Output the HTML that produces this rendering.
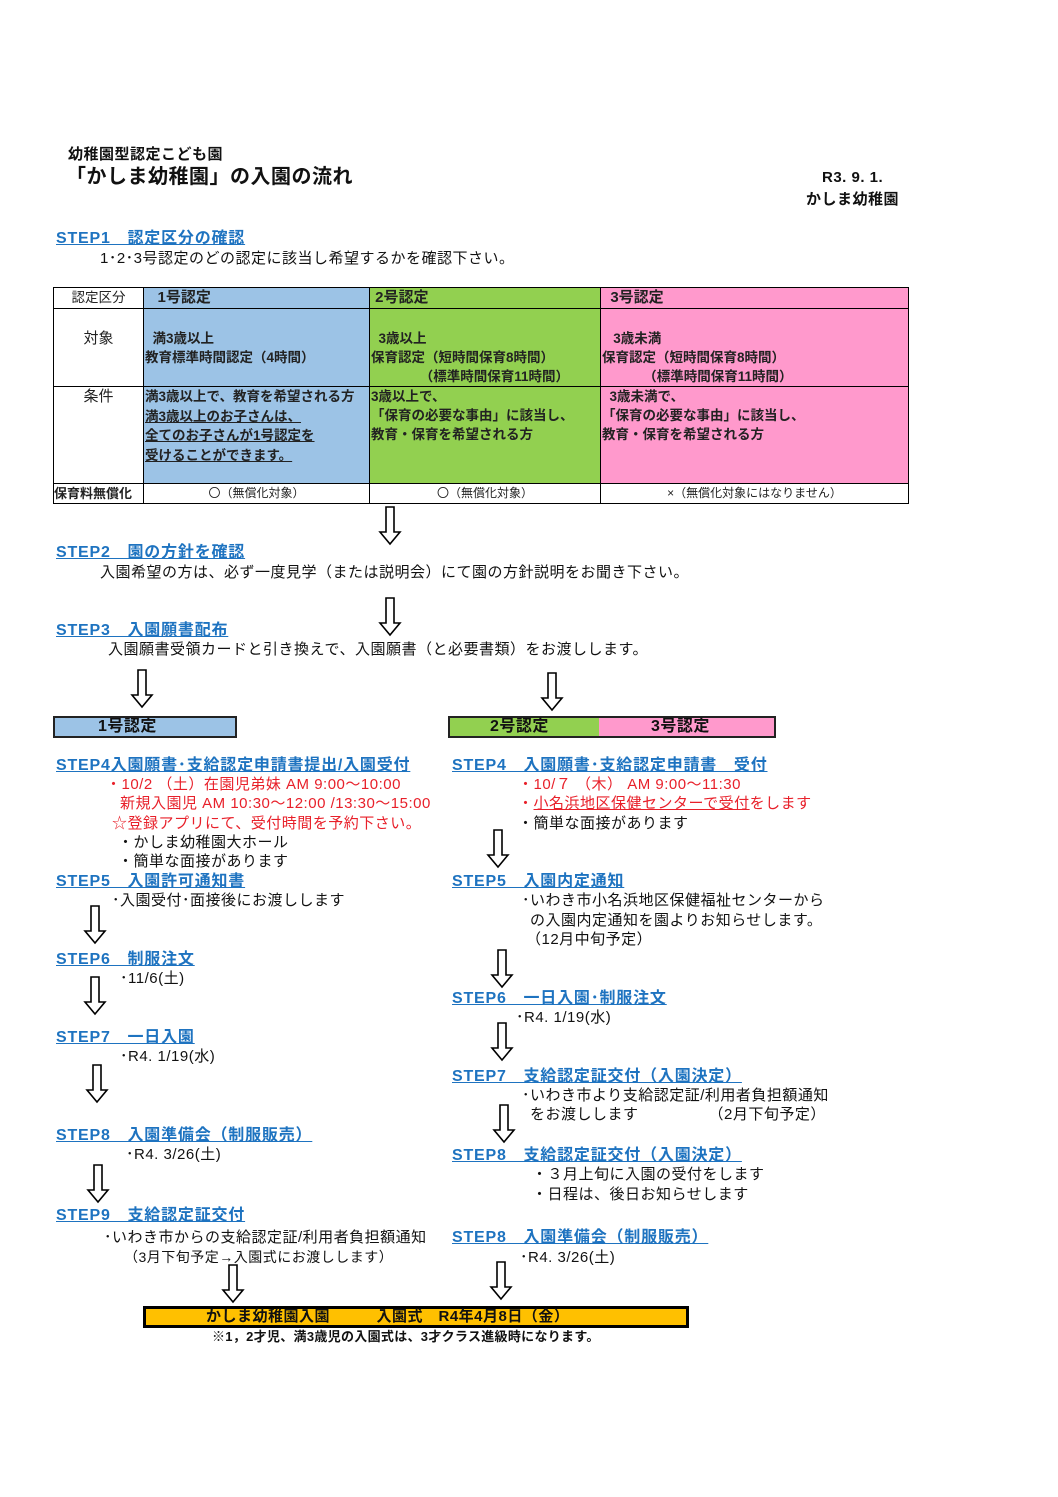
<!DOCTYPE html>
<html><head><meta charset="utf-8"><style>
body{margin:0;width:1058px;height:1497px;background:#fff;position:relative;font-family:"Liberation Sans","Noto Sans CJK JP",sans-serif;color:#111;overflow:hidden}
.a{position:absolute;white-space:nowrap;font-size:15px;line-height:19px;letter-spacing:0.5px}
.s{color:#1e73c0;text-decoration:underline;font-weight:bold;font-size:16px;letter-spacing:0.8px}
.r{color:#e8202a}
.b{font-weight:bold}
table{position:absolute;left:53px;top:287px;width:855px;table-layout:fixed;border-collapse:collapse;font-size:13.5px;font-weight:bold;color:#222}
td{border:1.5px solid #000;padding:0 1px;vertical-align:top;line-height:19px;white-space:nowrap;overflow:hidden}
.bl{background:#9cc3e6}.gr{background:#92d050}.pk{background:#ff99cc}
svg.ar{position:absolute;width:22px;height:40px;overflow:visible}
</style></head><body>
<div class="a b" style="left:68px;top:145px;font-size:15px">幼稚園型認定こども園</div>
<div class="a b" style="left:66px;top:165px;font-size:20px;line-height:24px">「かしま幼稚園」の入園の流れ</div>
<div class="a b" style="left:822px;top:168px;font-size:15px">R3. 9. 1.</div>
<div class="a b" style="left:806px;top:190px;font-size:15px">かしま幼稚園</div>

<div class="a s" style="left:56px;top:229px">STEP1　認定区分の確認</div>
<div class="a" style="left:100px;top:249px">1･2･3号認定のどの認定に該当し希望するかを確認下さい。</div>

<table>
<colgroup><col style="width:90px"><col style="width:226px"><col style="width:231px"><col style="width:308px"></colgroup>
<tr style="height:21px"><td style="text-align:center;font-weight:normal">認定区分</td><td class="bl" style="font-size:15px">&nbsp;&nbsp;&nbsp;1号認定</td><td class="gr" style="font-size:15px">&nbsp;2号認定</td><td class="pk" style="font-size:15px">&nbsp;&nbsp;3号認定</td></tr>
<tr style="height:77px"><td style="text-align:center;padding-top:20px;font-weight:normal;font-size:15px">対象</td><td class="bl" style="padding-top:20px">&nbsp;&nbsp;満3歳以上<br>教育標準時間認定（4時間）</td><td class="gr" style="padding-top:20px">&nbsp;&nbsp;3歳以上<br>保育認定（短時間保育8時間）<br>&nbsp;&nbsp;&nbsp;&nbsp;&nbsp;&nbsp;&nbsp;&nbsp;&nbsp;&nbsp;&nbsp;&nbsp;&nbsp;（標準時間保育11時間）</td><td class="pk" style="padding-top:20px">&nbsp;&nbsp;&nbsp;3歳未満<br>保育認定（短時間保育8時間）<br>&nbsp;&nbsp;&nbsp;&nbsp;&nbsp;&nbsp;&nbsp;&nbsp;&nbsp;&nbsp;&nbsp;（標準時間保育11時間）</td></tr>
<tr style="height:97px"><td style="text-align:center;font-weight:normal;font-size:15px">条件</td><td class="bl" style="line-height:19.5px">満3歳以上で、教育を希望される方<br><u>満3歳以上のお子さんは、</u><br><u>全てのお子さんが1号認定を</u><br><u>受けることができます。</u></td><td class="gr">3歳以上で、<br>「保育の必要な事由」に該当し、<br>教育・保育を希望される方</td><td class="pk">&nbsp;&nbsp;3歳未満で、<br>「保育の必要な事由」に該当し、<br>教育・保育を希望される方</td></tr>
<tr style="height:19px"><td style="font-size:13px;padding:0">保育料無償化</td><td style="text-align:center;font-size:12px;font-weight:normal">〇（無償化対象）</td><td style="text-align:center;font-size:12px;font-weight:normal">〇（無償化対象）</td><td style="text-align:center;font-size:12px;font-weight:normal">×（無償化対象にはなりません）</td></tr>
</table>

<div class="a s" style="left:56px;top:543px">STEP2　園の方針を確認</div>
<div class="a" style="left:100px;top:563px">入園希望の方は、必ず一度見学（または説明会）にて園の方針説明をお聞き下さい。</div>
<div class="a s" style="left:56px;top:621px">STEP3　入園願書配布</div>
<div class="a" style="left:108px;top:640px">入園願書受領カードと引き換えで、入園願書（と必要書類）をお渡しします。</div>

<div class="a b" style="left:53px;top:716px;width:180px;height:18px;border:2px solid #222;background:#9cc3e6;font-size:16px;line-height:18px"><span style="margin-left:43px">1号認定</span></div>
<div class="a b" style="left:448px;top:716px;width:150px;height:18px;border:2px solid #222;border-right:none;background:#92d050;font-size:16px;line-height:18px"><span style="margin-left:40px">2号認定</span></div>
<div class="a b" style="left:599px;top:716px;width:175px;height:18px;border:2px solid #222;border-left:none;background:#ff99cc;font-size:16px;line-height:18px"><span style="margin-left:52px">3号認定</span></div>

<div class="a s" style="left:56px;top:756px">STEP4入園願書･支給認定申請書提出/入園受付</div>
<div class="a r" style="left:106px;top:775px">・10/2 （土）在園児弟妹 AM 9:00～10:00</div>
<div class="a r" style="left:120px;top:794px">新規入園児 AM 10:30～12:00 /13:30～15:00</div>
<div class="a r" style="left:112px;top:814px">☆登録アプリにて、受付時間を予約下さい。</div>
<div class="a" style="left:118px;top:833px">・かしま幼稚園大ホール</div>
<div class="a" style="left:118px;top:852px">・簡単な面接があります</div>
<div class="a s" style="left:56px;top:872px">STEP5　入園許可通知書</div>
<div class="a" style="left:112px;top:891px">･入園受付･面接後にお渡しします</div>
<div class="a s" style="left:56px;top:950px">STEP6　制服注文</div>
<div class="a" style="left:120px;top:969px">･11/6(土)</div>
<div class="a s" style="left:56px;top:1028px">STEP7　一日入園</div>
<div class="a" style="left:120px;top:1047px">･R4. 1/19(水)</div>
<div class="a s" style="left:56px;top:1126px">STEP8　入園準備会（制服販売）</div>
<div class="a" style="left:126px;top:1145px">･R4. 3/26(土)</div>
<div class="a s" style="left:56px;top:1206px">STEP9　支給認定証交付</div>
<div class="a" style="left:104px;top:1228px">･いわき市からの支給認定証/利用者負担額通知</div>
<div class="a" style="left:124px;top:1248px;font-size:14px">（3月下旬予定→入園式にお渡しします）</div>

<div class="a s" style="left:452px;top:756px">STEP4　入園願書･支給認定申請書　受付</div>
<div class="a r" style="left:518px;top:775px">・10/７ （木） AM 9:00～11:30</div>
<div class="a r" style="left:518px;top:794px">・<u>小名浜地区保健センターで受付</u>をします</div>
<div class="a" style="left:518px;top:814px">・簡単な面接があります</div>
<div class="a s" style="left:452px;top:872px">STEP5　入園内定通知</div>
<div class="a" style="left:522px;top:891px">･いわき市小名浜地区保健福祉センターから</div>
<div class="a" style="left:530px;top:911px">の入園内定通知を園よりお知らせします。</div>
<div class="a" style="left:526px;top:930px">（12月中旬予定）</div>
<div class="a s" style="left:452px;top:989px">STEP6　一日入園･制服注文</div>
<div class="a" style="left:516px;top:1008px">･R4. 1/19(水)</div>
<div class="a s" style="left:452px;top:1067px">STEP7　支給認定証交付（入園決定）</div>
<div class="a" style="left:522px;top:1086px">･いわき市より支給認定証/利用者負担額通知</div>
<div class="a" style="left:530px;top:1105px">をお渡しします　　　　　（2月下旬予定）</div>
<div class="a s" style="left:452px;top:1146px">STEP8　支給認定証交付（入園決定）</div>
<div class="a" style="left:532px;top:1165px">・３月上旬に入園の受付をします</div>
<div class="a" style="left:532px;top:1185px">・日程は、後日お知らせします</div>
<div class="a s" style="left:452px;top:1228px">STEP8　入園準備会（制服販売）</div>
<div class="a" style="left:520px;top:1248px">･R4. 3/26(土)</div>

<div class="a b" style="left:143px;top:1306px;width:540px;height:16px;border:3px solid #000;background:#ffc000;font-size:15px;line-height:16px"><span style="margin-left:60px">かしま幼稚園入園　　　入園式　R4年4月8日（金）</span></div>
<div class="a b" style="left:212px;top:1329px;font-size:13px;line-height:16px;letter-spacing:0.3px">※1，2才児、満3歳児の入園式は、3才クラス進級時になります。</div>

<svg class="ar" style="left:380px;top:507px"><polygon points="6,0 14,0 14,25 20,25 10,37 0,25 6,25" fill="#fff" stroke="#000" stroke-width="1.6"/></svg>
<svg class="ar" style="left:380px;top:598px"><polygon points="6,0 14,0 14,25 20,25 10,37 0,25 6,25" fill="#fff" stroke="#000" stroke-width="1.6"/></svg>
<svg class="ar" style="left:132px;top:670px"><polygon points="6,0 14,0 14,25 20,25 10,37 0,25 6,25" fill="#fff" stroke="#000" stroke-width="1.6"/></svg>
<svg class="ar" style="left:542px;top:673px"><polygon points="6,0 14,0 14,25 20,25 10,37 0,25 6,25" fill="#fff" stroke="#000" stroke-width="1.6"/></svg>
<svg class="ar" style="left:488px;top:830px"><polygon points="6,0 14,0 14,25 20,25 10,37 0,25 6,25" fill="#fff" stroke="#000" stroke-width="1.6"/></svg>
<svg class="ar" style="left:85px;top:906px"><polygon points="6,0 14,0 14,25 20,25 10,37 0,25 6,25" fill="#fff" stroke="#000" stroke-width="1.6"/></svg>
<svg class="ar" style="left:85px;top:977px"><polygon points="6,0 14,0 14,25 20,25 10,37 0,25 6,25" fill="#fff" stroke="#000" stroke-width="1.6"/></svg>
<svg class="ar" style="left:492px;top:950px"><polygon points="6,0 14,0 14,25 20,25 10,37 0,25 6,25" fill="#fff" stroke="#000" stroke-width="1.6"/></svg>
<svg class="ar" style="left:87px;top:1065px"><polygon points="6,0 14,0 14,25 20,25 10,37 0,25 6,25" fill="#fff" stroke="#000" stroke-width="1.6"/></svg>
<svg class="ar" style="left:492px;top:1023px"><polygon points="6,0 14,0 14,25 20,25 10,37 0,25 6,25" fill="#fff" stroke="#000" stroke-width="1.6"/></svg>
<svg class="ar" style="left:88px;top:1165px"><polygon points="6,0 14,0 14,25 20,25 10,37 0,25 6,25" fill="#fff" stroke="#000" stroke-width="1.6"/></svg>
<svg class="ar" style="left:494px;top:1105px"><polygon points="6,0 14,0 14,25 20,25 10,37 0,25 6,25" fill="#fff" stroke="#000" stroke-width="1.6"/></svg>
<svg class="ar" style="left:223px;top:1265px"><polygon points="6,0 14,0 14,25 20,25 10,37 0,25 6,25" fill="#fff" stroke="#000" stroke-width="1.6"/></svg>
<svg class="ar" style="left:491px;top:1262px"><polygon points="6,0 14,0 14,25 20,25 10,37 0,25 6,25" fill="#fff" stroke="#000" stroke-width="1.6"/></svg>
</body></html>
